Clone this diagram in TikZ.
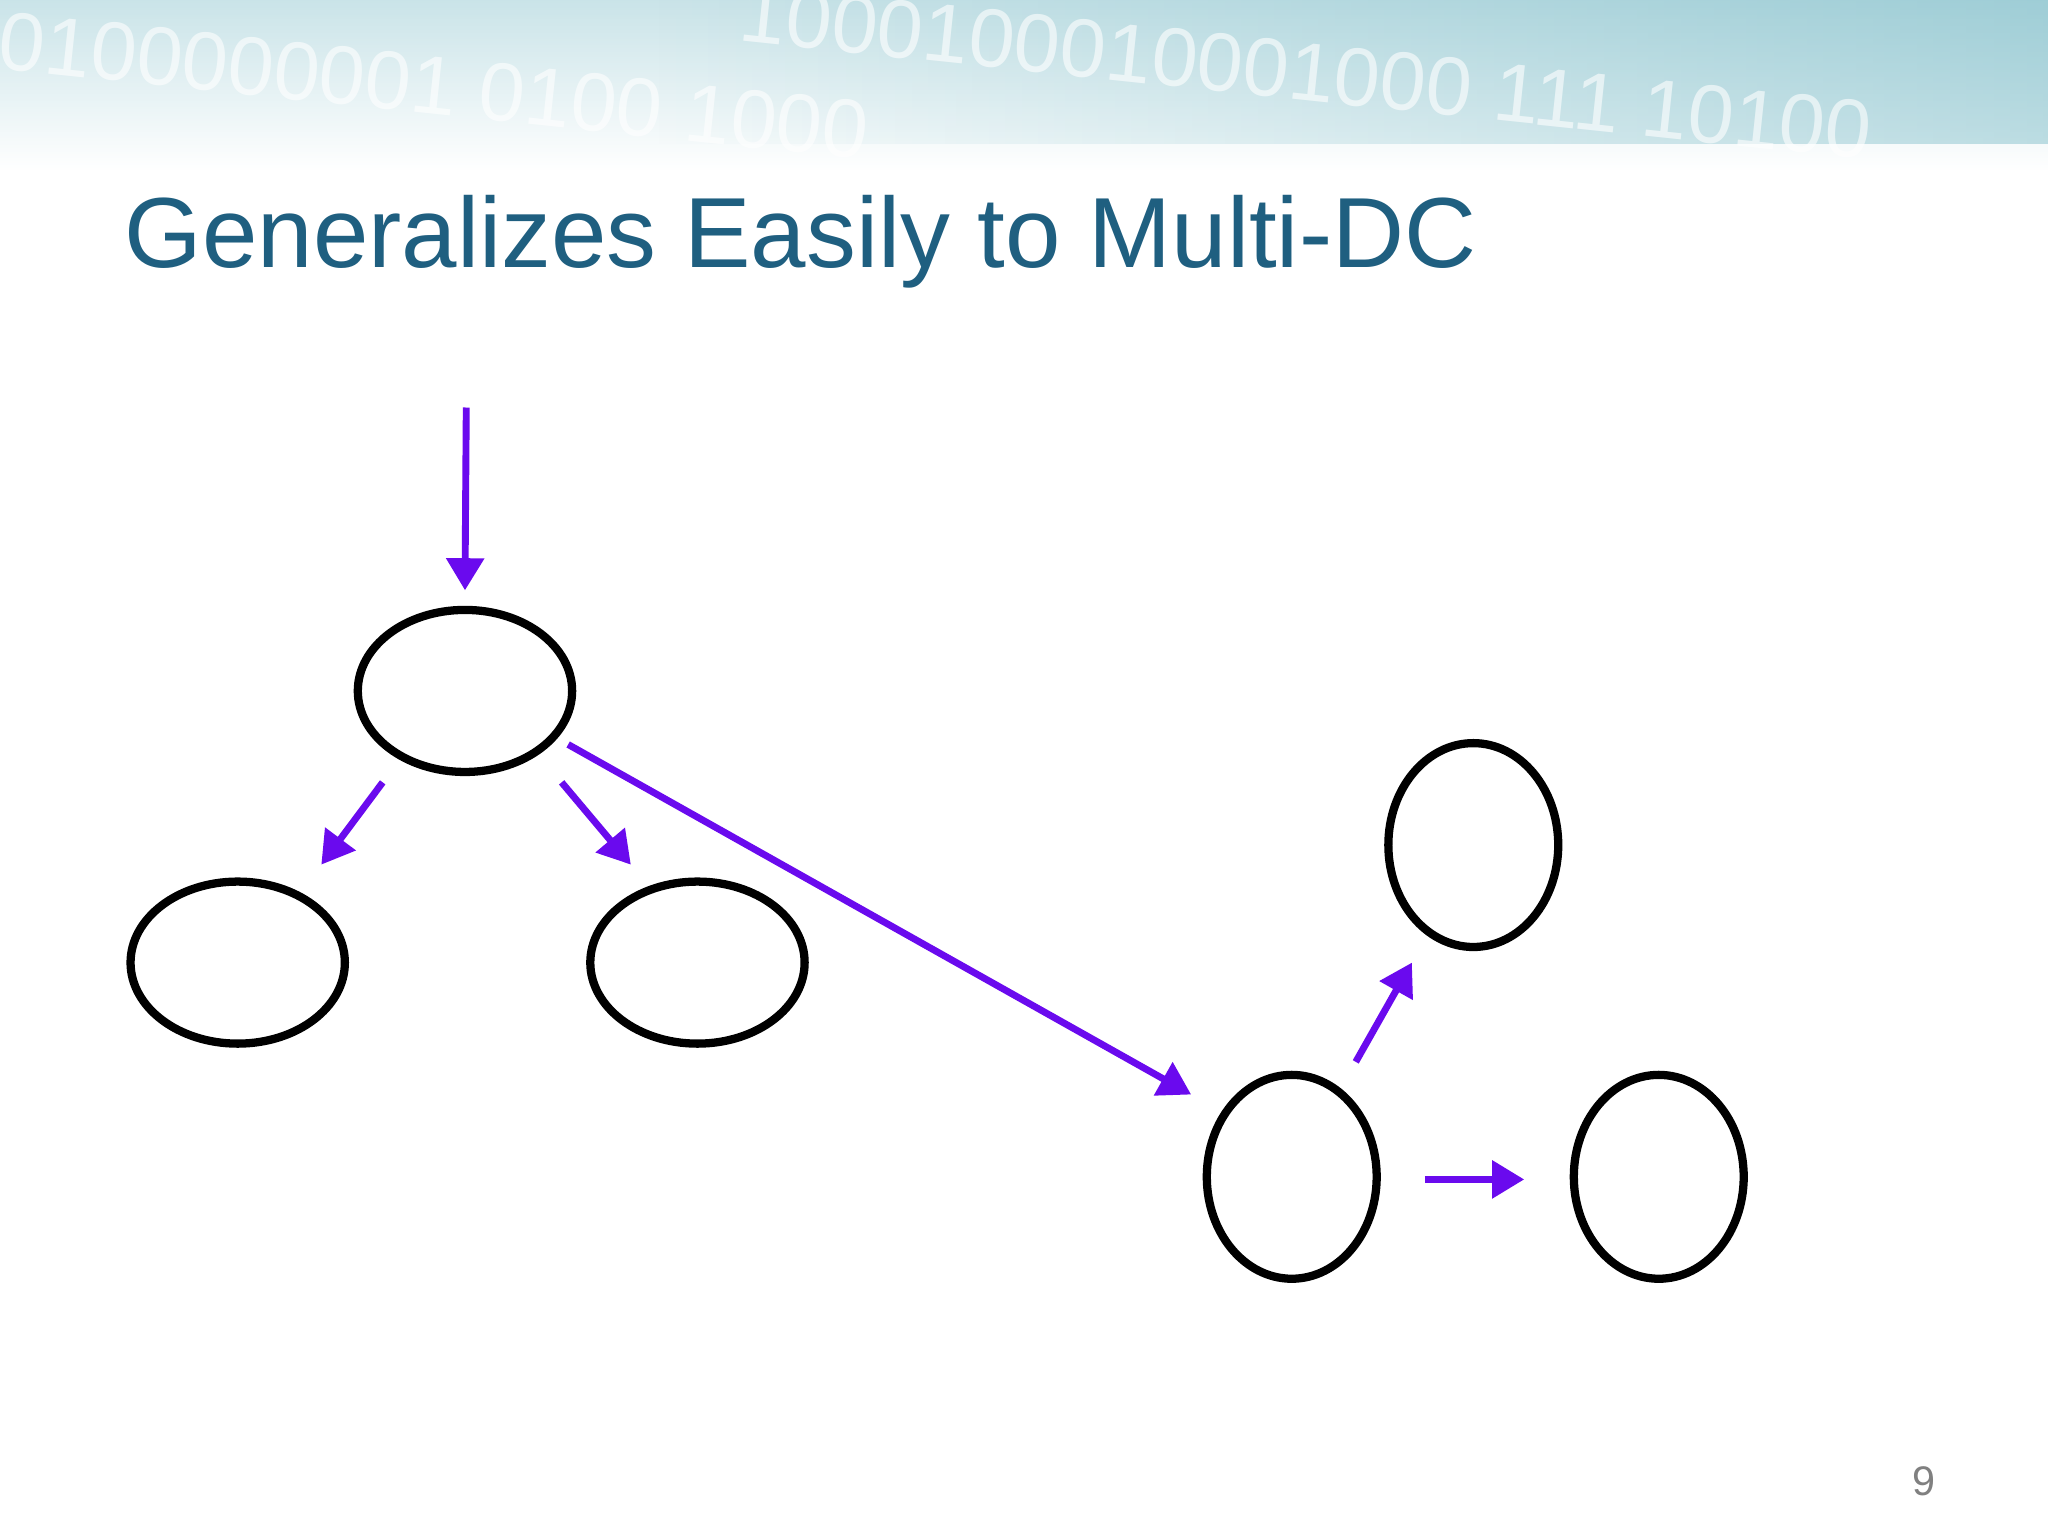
\documentclass[tikz,border=0pt]{standalone}
\usepackage{fontspec}
\setmainfont{Liberation Sans}
\usetikzlibrary{arrows.meta,shapes.geometric,fadings}
\definecolor{titleblue}{HTML}{1F5F80}
\definecolor{arrowpurple}{HTML}{6A0AEE}
\definecolor{bannerteal}{HTML}{4FA5B5}
\begin{document}
\begin{tikzpicture}[x=0.01cm,y=-0.01cm,
  oval/.style={draw=black,line width=1.8pt,ellipse,minimum width=1.64cm,minimum height=1.24cm},
  ovalv/.style={draw=black,line width=1.8pt,ellipse,minimum width=1.30cm,minimum height=1.56cm},
  parrow/.style={draw=arrowpurple,line width=1.5pt,-{Triangle[length=7pt,width=8pt]}}]
\useasboundingbox (0,0) rectangle (1568,1176);
\fill[white] (0,0) rectangle (1568,1176);
% banner
\fill[bannerteal,path fading=south,opacity=0.3] (0,0) rectangle (1568,130);
\fill[bannerteal,path fading=west,opacity=0.35] (500,0) rectangle (1568,110);
\node[text=white,opacity=0.6,font=\fontsize{18}{18}\selectfont,rotate=-6] (bin1) at (280,60) {0010100000001 0100 1000};
\node[text=white,opacity=0.6,font=\fontsize{18}{18}\selectfont,rotate=-6] (bin2) at (1000,55) {1000100010001000 111 10100};
% title
\node[anchor=base west,text=titleblue,font=\fontsize{21.7}{26}\selectfont,inner sep=0] (title) at (95,205) {Generalizes Easily to Multi-DC};
% nodes
\node[oval] (r) at (356,529) {};
\node[oval] (l) at (182,737) {};
\node[oval] (m) at (534,737) {};
\node[ovalv] (t) at (1128,647) {};
\node[ovalv] (b) at (989,901) {};
\node[ovalv] (c) at (1270,901) {};
% arrow endpoints
\coordinate (in) at (357,312);
\draw[parrow] (in) -- ([shift={(0,-77)}]r.center);
\draw[parrow] ([shift={(-63,70)}]r.center) -- ([shift={(64,-75)}]l.center);
\draw[parrow] ([shift={(74,70)}]r.center) -- ([shift={(-51,-75)}]m.center);
\draw[parrow] ([shift={(79,41)}]r.center) -- ([shift={(-77,-63)}]b.center);
\draw[parrow] ([shift={(49,-88)}]b.center) -- ([shift={(-47,90)}]t.center);
\draw[parrow] ([shift={(102,2)}]b.center) -- ([shift={(-103,2)}]c.center);
\node[text=gray,font=\fontsize{9}{9}\selectfont] (pg) at (1473,1134) {9};
\end{tikzpicture}
\end{document}
